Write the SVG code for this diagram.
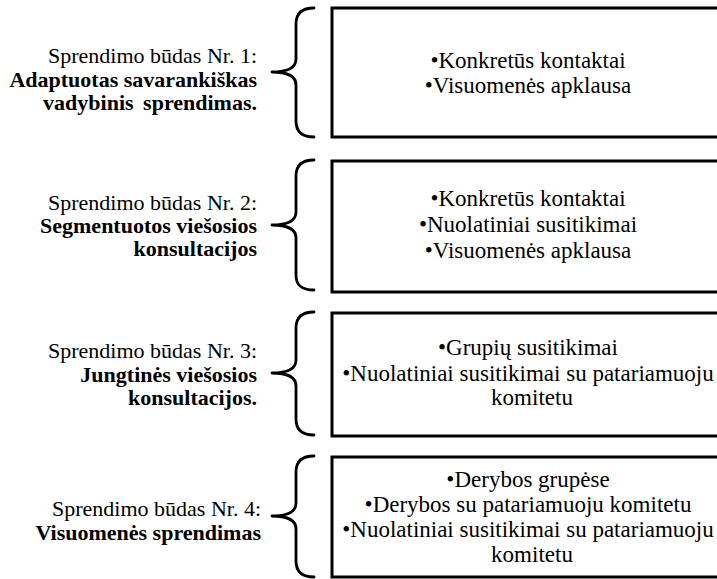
<svg xmlns="http://www.w3.org/2000/svg" width="717" height="579" viewBox="0 0 717 579">
<style>
.box{fill:#fff;stroke:#000;stroke-width:3}
.brace{fill:none;stroke:#000;stroke-width:2.8;stroke-linecap:round;stroke-linejoin:round}
.lbl{font-family:"Liberation Serif","Times New Roman",serif;font-size:22px;fill:#000;text-anchor:end}
.b{font-weight:bold}
.itm{font-family:"Liberation Serif","Times New Roman",serif;font-size:23px;fill:#000;text-anchor:middle}
</style>
<rect x="0" y="0" width="717" height="579" fill="#fff"/>
<g id="connectors">
<path class="brace" d="M314,8 C302,8 296,13 296,24 L296,59 C296,67 289,72 272,72 C289,72 296,77 296,85 L296,121 C296,132 302,137 314,137"/>
<path class="brace" d="M314,160 C302,160 296,165 296,176 L296,212 C296,220 289,225 272,225 C289,225 296,230 296,238 L296,275 C296,286 302,290 314,290"/>
<path class="brace" d="M314,312 C302,312 296,317 296,328 L296,360 C296,368 289,373 272,373 C289,373 296,378 296,386 L296,419 C296,430 302,435 314,435"/>
<path class="brace" d="M314,456 C302,456 296,461 296,472 L296,503 C296,511 289,516 272,516 C289,516 296,521 296,529 L296,561 C296,572 302,577 314,577"/>
</g>
<g id="label1">
<text class="lbl" x="257" y="63">Sprendimo būdas Nr. 1:</text>
<text class="lbl b" x="257" y="87">Adaptuotas savarankiškas</text>
<text class="lbl b" x="257" y="110" word-spacing="4">vadybinis sprendimas.</text>
</g>
<g id="label2">
<text class="lbl" x="257" y="210">Sprendimo būdas Nr. 2:</text>
<text class="lbl b" x="257" y="233">Segmentuotos viešosios</text>
<text class="lbl b" x="257" y="256">konsultacijos</text>
</g>
<g id="label3">
<text class="lbl" x="257" y="358">Sprendimo būdas Nr. 3:</text>
<text class="lbl b" x="257" y="382">Jungtinės viešosios</text>
<text class="lbl b" x="257" y="405">konsultacijos.</text>
</g>
<g id="label4">
<text class="lbl" x="261" y="516">Sprendimo būdas Nr. 4:</text>
<text class="lbl b" x="261" y="540">Visuomenės sprendimas</text>
</g>
<g id="box1">
<rect class="box" x="332" y="8" width="400" height="129"/>
<text class="itm" x="528" y="68">•Konkretūs kontaktai</text>
<text class="itm" x="528" y="93">•Visuomenės apklausa</text>
</g>
<g id="box2">
<rect class="box" x="332" y="161" width="400" height="131"/>
<text class="itm" x="528" y="206">•Konkretūs kontaktai</text>
<text class="itm" x="528" y="232">•Nuolatiniai susitikimai</text>
<text class="itm" x="528" y="258">•Visuomenės apklausa</text>
</g>
<g id="box3">
<rect class="box" x="332" y="313" width="400" height="123"/>
<text class="itm" x="528" y="355">•Grupių susitikimai</text>
<text class="itm" x="528" y="381">•Nuolatiniai susitikimai su patariamuoju</text>
<text class="itm" x="532" y="405">komitetu</text>
</g>
<g id="box4">
<rect class="box" x="332" y="457" width="400" height="120"/>
<text class="itm" x="528" y="487">•Derybos grupėse</text>
<text class="itm" x="528" y="512">•Derybos su patariamuoju komitetu</text>
<text class="itm" x="528" y="537">•Nuolatiniai susitikimai su patariamuoju</text>
<text class="itm" x="532" y="562">komitetu</text>
</g>
</svg>
